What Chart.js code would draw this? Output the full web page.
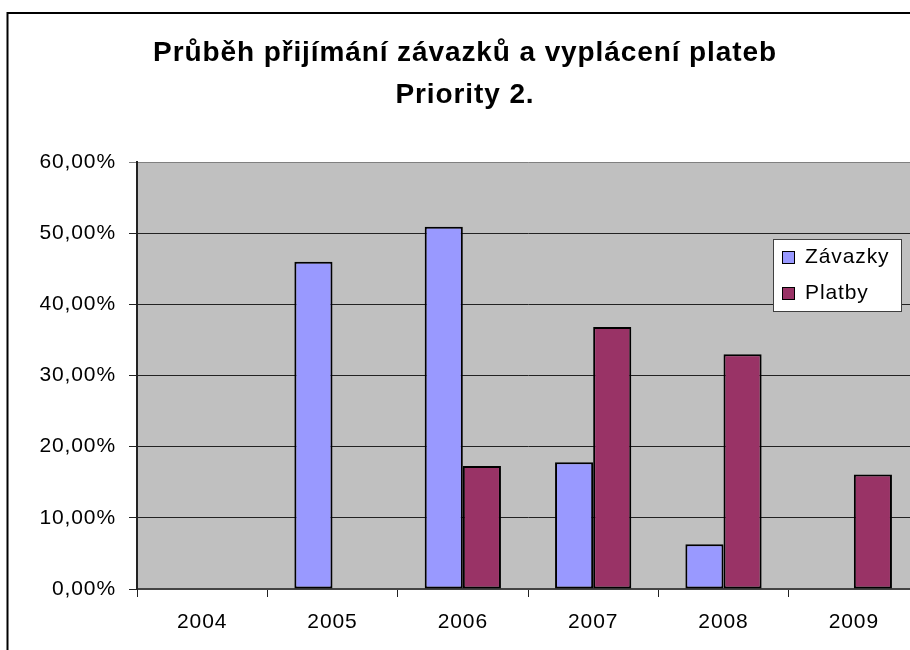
<!DOCTYPE html>
<html>
<head>
<meta charset="utf-8">
<script src="https://cdn.jsdelivr.net/npm/chart.js@4.4.1/dist/chart.umd.min.js"></script>
<style>
  html, body { margin: 0; padding: 0; background: #ffffff; overflow: hidden; }
  #wrap { position: absolute; left: 0; top: 0; width: 930px; height: 665px; }
</style>
</head>
<body>
<div id="wrap"><canvas id="c" width="930" height="665"></canvas></div>
<script>
// ---- data ----
const titleLines = ['Průběh přijímání závazků a vyplácení plateb', 'Priority 2.'];
const years = ['2004', '2005', '2006', '2007', '2008', '2009'];
const seriesNames = ['Závazky', 'Platby'];
const zavazky = [null, 0.460, 0.509, 0.178, 0.063, null];
const platby  = [null, null, 0.173, 0.368, 0.330, 0.161];
const yMin = 0, yMax = 0.6, yStep = 0.1;

const FONT = "'Liberation Sans', Arial, Helvetica, sans-serif";
const SPACING = '0.9px';

const fmtPct = v => (v * 100).toFixed(2).replace('.', ',') + '%';

const framePlugin = {
  id: 'frame',
  beforeDraw(chart) {
    const ctx = chart.ctx;
    const a = chart.chartArea;
    ctx.letterSpacing = SPACING;
    ctx.save();
    ctx.fillStyle = '#C0C0C0';
    ctx.fillRect(a.left, a.top, a.right - a.left, a.bottom - a.top);
    ctx.strokeStyle = '#000000';
    ctx.lineWidth = 2;
    ctx.strokeRect(7.5, 13, chart.width + 20, chart.height + 20);
    ctx.restore();
  }
};

const legendPlugin = {
  id: 'innerLegend',
  afterDraw(chart) {
    const ctx = chart.ctx;
    const x0 = 773, y0 = 239, w = 128, h = 72;
    ctx.save();
    ctx.letterSpacing = SPACING;
    ctx.fillStyle = '#ffffff';
    ctx.fillRect(x0, y0, w, h);
    ctx.strokeStyle = '#404040';
    ctx.lineWidth = 1;
    ctx.strokeRect(x0 + 0.5, y0 + 0.5, w, h);
    ctx.font = '21px ' + FONT;
    ctx.textBaseline = 'middle';
    ctx.textAlign = 'left';
    chart.data.datasets.forEach((ds, i) => {
      const cy = y0 + 18 + i * 36;
      ctx.fillStyle = ds.backgroundColor;
      ctx.fillRect(x0 + 9, cy - 6, 12, 12);
      ctx.strokeStyle = '#000000';
      ctx.lineWidth = 1;
      ctx.strokeRect(x0 + 9.5, cy - 5.5, 12, 12);
      ctx.fillStyle = '#000000';
      ctx.fillText(ds.label, x0 + 32, cy);
    });
    ctx.restore();
    ctx.letterSpacing = '0px';
  }
};

new Chart(document.getElementById('c'), {
  type: 'bar',
  data: {
    labels: years,
    datasets: [
      { label: seriesNames[0], data: zavazky, backgroundColor: '#9999FF', borderColor: '#000000', borderWidth: 2, borderSkipped: false },
      { label: seriesNames[1], data: platby,  backgroundColor: '#993366', borderColor: '#000000', borderWidth: 2, borderSkipped: false }
    ]
  },
  options: {
    responsive: false,
    animation: false,
    devicePixelRatio: 1,
    datasets: { bar: { categoryPercentage: 0.585, barPercentage: 1.0 } },
    layout: { padding: { left: 11, right: 11, top: 0, bottom: 0 } },
    plugins: {
      legend: { display: false },
      tooltip: { enabled: false },
      title: {
        display: true,
        text: titleLines,
        color: '#000000',
        font: { family: FONT, size: 28, weight: 'bold', lineHeight: 42 / 28 },
        padding: { top: 32, bottom: 46 }
      }
    },
    scales: {
      x: {
        offset: true,
        grid: { display: true, offset: true, drawOnChartArea: false, drawTicks: true, tickLength: 8, color: '#222222', lineWidth: 1 },
        border: { display: true, color: '#444444', width: 2 },
        ticks: { color: '#000000', font: { family: FONT, size: 21 }, padding: 13, maxRotation: 0, autoSkip: false },
        afterFit(scale) { scale.height = 76; }
      },
      y: {
        min: yMin, max: yMax,
        grid: {
          color: ctx => (ctx.tick && Math.abs(ctx.tick.value - yMax) < 1e-9) ? '#808080' : '#222222',
          lineWidth: 1, tickLength: 8, drawTicks: true
        },
        border: { display: true, color: '#222222', width: 2 },
        ticks: { stepSize: yStep, color: '#000000', font: { family: FONT, size: 21 }, padding: 13, callback: v => fmtPct(v) },
        afterFit(scale) { scale.width = 126; }
      }
    }
  },
  plugins: [framePlugin, legendPlugin]
});
</script>
</body>
</html>
